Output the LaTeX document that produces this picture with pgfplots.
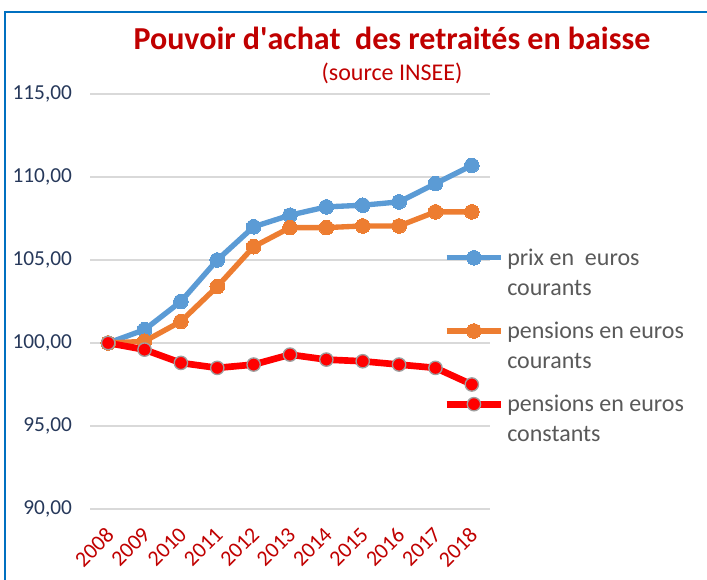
\documentclass[border=0pt]{standalone}
\usepackage{fontspec}
\setmainfont{Carlito}
\usepackage{pgfplots}
\pgfplotsset{compat=1.18}
\definecolor{cblue}{RGB}{91,155,213}
\definecolor{corange}{RGB}{237,125,49}
\definecolor{cred}{RGB}{255,0,0}
\definecolor{tred}{RGB}{192,0,0}
\definecolor{framec}{RGB}{0,112,192}
\definecolor{ynavy}{RGB}{38,56,90}
\definecolor{legtext}{RGB}{89,89,89}
\definecolor{gridc}{RGB}{217,217,217}
\begin{document}
\begin{tikzpicture}
\path[use as bounding box] (0,0) rectangle (530.25pt,435pt);
\draw[framec, line width=1.5pt] (3.75pt,0) -- (3.75pt,426pt) -- (531pt,426pt);
\node[tred, font=\bfseries\fontsize{24}{28}\selectfont] at (294pt,406pt) {Pouvoir d\textquotesingle achat~ des retraités en baisse};
\node[tred, font=\fontsize{18}{21}\selectfont] at (294pt,380.25pt) {(source INSEE)};
\begin{axis}[
  at={(67.5pt,53.25pt)}, anchor=south west,
  scale only axis, width=300pt, height=311.25pt,
  xmin=-0.5, xmax=10.5, ymin=90, ymax=115,
  xtick={0,...,10},
  xticklabels={2008,2009,2010,2011,2012,2013,2014,2015,2016,2017,2018},
  ytick={90,95,...,115},
  axis line style={draw=none}, tick style={draw=none},
  ymajorgrids, grid style={gridc, line width=1pt},
  /pgf/number format/.cd, fixed, fixed zerofill, precision=2, use comma, assume math mode=true,
  /pgfplots/.cd,
  yticklabel style={ynavy, font=\fontsize{16}{19}\selectfont, xshift=-10pt},
  xticklabel style={tred, font=\fontsize{16.5}{19}\selectfont, anchor=center, xshift=-10.5pt, yshift=-28.5pt, rotate=45},
  clip=false,
  legend style={at={(0.8725,0.641)}, anchor=north west, draw=none, fill=none,
    font=\fontsize{18}{22.5}\selectfont, text=legtext, row sep=14.5pt,
    nodes={align=left}},
  legend cell align=left,
  legend image code/.code={\draw[mark repeat=2,mark phase=2] plot coordinates {(0pt,11.25pt) (20.5pt,11.25pt) (41pt,11.25pt)};},
]
\addplot[cblue, line width=4pt, mark=*, mark size=5.5pt, mark options={cblue, line width=0pt}] coordinates {
(0,100) (1,100.8) (2,102.5) (3,105.0) (4,107.0) (5,107.7) (6,108.2) (7,108.3) (8,108.5) (9,109.6) (10,110.7)};
\addlegendentry{prix en~ euros\\courants}
\addplot[corange, line width=4pt, mark=*, mark size=5.5pt, mark options={corange, line width=0pt}] coordinates {
(0,100) (1,100.1) (2,101.3) (3,103.4) (4,105.8) (5,106.95) (6,106.95) (7,107.05) (8,107.05) (9,107.9) (10,107.9)};
\addlegendentry{pensions en euros\\courants}
\addplot[cred, line width=5pt, mark=*, mark size=5pt, mark options={fill=cred, draw=gray!75, line width=1pt}] coordinates {
(0,100) (1,99.6) (2,98.8) (3,98.5) (4,98.7) (5,99.3) (6,99.0) (7,98.9) (8,98.7) (9,98.5) (10,97.5)};
\addlegendentry{pensions en euros\\constants}
\end{axis}
\end{tikzpicture}
\end{document}
